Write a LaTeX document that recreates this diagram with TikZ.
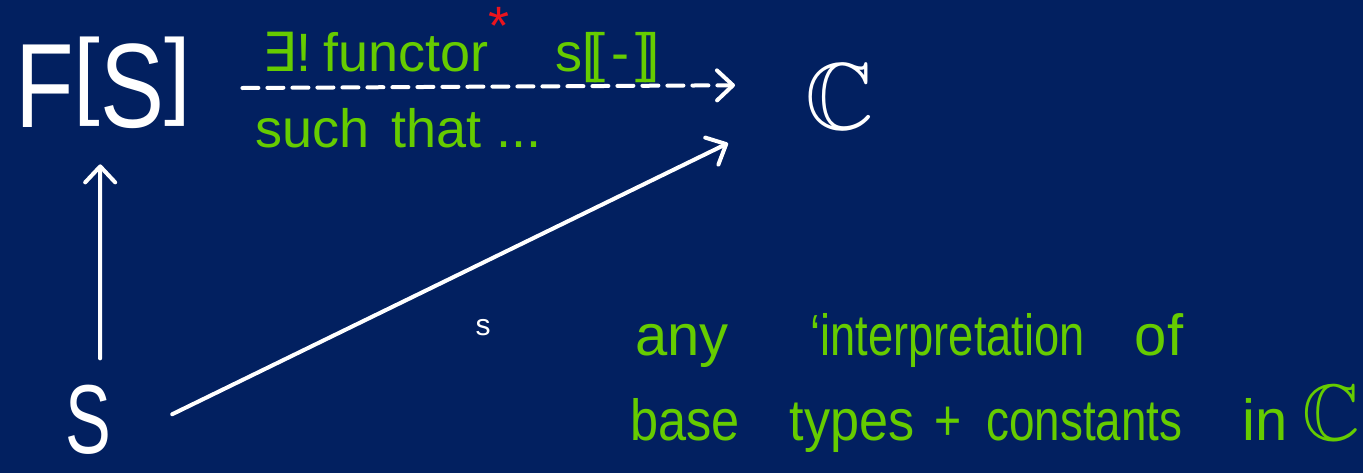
\documentclass[tikz,border=0pt]{standalone}
\usepackage{fontspec}
\setmainfont{Liberation Sans}
\newfontfamily\dejavu{DejaVu Sans}
\usepackage{amssymb}
\usepackage{graphicx}
\usetikzlibrary{arrows.meta}
\definecolor{bg}{RGB}{2,32,96}
\definecolor{chalkgreen}{RGB}{102,204,0}
\definecolor{starred}{RGB}{235,20,30}
\newcommand{\shortbr}[1]{\raisebox{0.18em}{\scalebox{1}[0.8]{#1}}}
\tikzset{
  obj/.style={text=white, inner sep=0pt, anchor=base west},
  note/.style={text=chalkgreen, inner sep=0pt, anchor=base west, font=\fontsize{54}{60}\selectfont},
  remark/.style={text=chalkgreen, inner sep=0pt, anchor=base west, font=\fontsize{58}{64}\selectfont},
  arr/.style={white, line width=4pt, line cap=round, line join=round,
    -{Straight Barb[round, length=16pt, width=30pt]}},
  dasharr/.style={arr, dash pattern=on 16pt off 9pt},
}
\begin{document}
\begin{tikzpicture}[x=1pt, y=-1pt]
\fill[bg] (0,0) rectangle (1363,473);
\useasboundingbox (0,0) rectangle (1363,473);
% objects
\node[obj, font=\fontsize{120}{120}\selectfont] (FS) at (15,128) {\scalebox{0.8}[1]{F\shortbr{[}S\shortbr{]}}};
\node[obj, font=\fontsize{95}{95}\selectfont] (C) at (805,130) {$\mathbb{C}$};
\node[obj, font=\fontsize{98}{98}\selectfont] (S) at (65,453) {\scalebox{0.7}[1]{S}};
% arrows
\draw[arr] ([xshift=12pt,yshift=26pt]S.north) -- ([xshift=-3pt,yshift=-35pt]FS.south);
\draw[arr] ([xshift=61pt,yshift=5pt]S.east) -- ([xshift=-77pt,yshift=-13pt]C.south west);
\draw[dasharr] ([xshift=51pt,yshift=-5pt]FS.east) -- ([xshift=-70pt,yshift=12pt]C.west);
\node[text=white, inner sep=0pt, font=\fontsize{30}{30}\selectfont] (slab) at (483,328) {s};
% labels on dashed arrow
\node[note] (l1) at (262,72) {{\dejavu ∃}!\hspace{12pt}functor\textcolor{starred}{\raisebox{0.5em}{*}}};
\node[note] (l2) at (555,72) {s[\kern-0.12em[\hspace{6pt}-\hspace{6pt}]\kern-0.12em]};
\node[note] (l3) at (255,148) {such\hspace{22pt}that ...};
% remark
\node[remark] (r1) at (635,355) {\hbox{any\hspace{82pt}\scalebox{0.78}[1]{‘interpretation}\hspace{50pt}of}};
\node[remark] (r2) at (630,440) {\hbox{\scalebox{0.87}[1]{base}\hspace{50pt}\scalebox{0.9}[1]{types}\hspace{20pt}\scalebox{0.8}[1]{+}\hspace{25pt}\scalebox{0.79}[1]{constants}\hspace{60pt}in\hspace{15pt}{\fontsize{80}{80}\selectfont$\mathbb{C}$}}};
\end{tikzpicture}
\end{document}
